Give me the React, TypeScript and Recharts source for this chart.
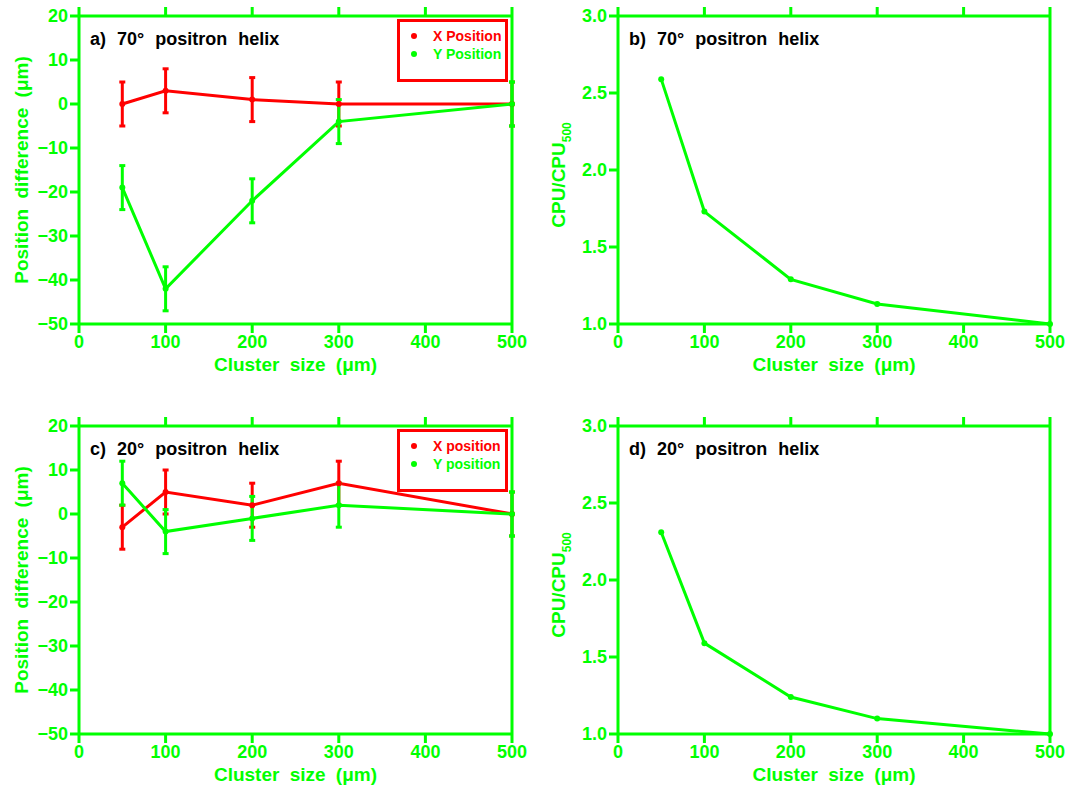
import { ErrorBar, Legend, Line, LineChart, XAxis, YAxis } from "recharts"

const SIZES = [50, 100, 200, 300, 500]

// panel a/c: position difference (um)
const X_DIFF_70 = [0, 3, 1, 0, 0]
const Y_DIFF_70 = [-19, -42, -22, -4, 0]
const X_DIFF_20 = [-3, 5, 2, 7, 0]
const Y_DIFF_20 = [7, -4, -1, 2, 0]
const DIFF_ERR = [5, 5, 5, 5, 5]

// panel b/d: CPU relative to 500um clusters
const CPU_70 = [2.59, 1.73, 1.29, 1.13, 1.0]
const CPU_20 = [2.31, 1.59, 1.24, 1.1, 1.0]

const X_TICKS = [0, 100, 200, 300, 400, 500]
const DIFF_TICKS = [-50, -40, -30, -20, -10, 0, 10, 20]
const CPU_TICKS = [1.0, 1.5, 2.0, 2.5, 3.0]

const GREEN = "#00ff00"
const RED = "#ff0000"
const FONT = "'Liberation Sans', Arial, sans-serif"

const roundDot = (color: string) => (p: any) => (
  <circle key={p.key ?? `${p.cx}-${p.cy}`} cx={p.cx} cy={p.cy} r={3} fill={color} stroke="none" />
)

const hideTick = () => <g />

const axisCommon = {
  stroke: GREEN,
  strokeWidth: 3,
  tickSize: 9,
  tickLine: { stroke: GREEN, strokeWidth: 3 },
}

const tickStyle = { fill: GREEN, fontSize: 18, fontWeight: 700, fontFamily: FONT }

const fmtDiff = (v: number) => (v < 0 ? `\u2212${-v}` : `${v}`)

const xLabel = ({ viewBox }: any) => (
  <text
    x={viewBox.x + viewBox.width / 2}
    y={viewBox.y + 47}
    textAnchor="middle"
    fill={GREEN}
    fontSize={19}
    fontWeight={700}
    fontFamily={FONT}
    wordSpacing={5}
  >
    Cluster size (μm)
  </text>
)

const yLabelDiff = ({ viewBox }: any) => {
  const x = viewBox.x + 19
  const y = viewBox.y + viewBox.height / 2
  return (
    <text
      x={x}
      y={y}
      transform={`rotate(-90 ${x} ${y})`}
      textAnchor="middle"
      fill={GREEN}
      fontSize={19}
      fontWeight={700}
      fontFamily={FONT}
      wordSpacing={5}
    >
      Position difference (μm)
    </text>
  )
}

const yLabelCpu = ({ viewBox }: any) => {
  const x = viewBox.x + 17
  const y = viewBox.y + viewBox.height / 2 + 5
  return (
    <text
      x={x}
      y={y}
      transform={`rotate(-90 ${x} ${y})`}
      textAnchor="middle"
      fill={GREEN}
      fontSize={19}
      fontWeight={700}
      fontFamily={FONT}
    >
      CPU/CPU
      <tspan fontSize={12} dy={6}>
        500
      </tspan>
    </text>
  )
}

const legendBox = (xName: string, yName: string) => () => (
  <div
    style={{
      width: 111,
      height: 63,
      border: `3px solid ${RED}`,
      boxSizing: "border-box",
      fontFamily: FONT,
      fontWeight: 700,
      fontSize: 14,
      paddingTop: 5,
    }}
  >
    {[
      { name: xName, color: RED },
      { name: yName, color: GREEN },
    ].map((e) => (
      <div key={e.name} style={{ display: "flex", alignItems: "center", height: 18, color: e.color }}>
        <svg width={33} height={12}>
          <circle cx={14} cy={6} r={3} fill={e.color} />
        </svg>
        <span>{e.name}</span>
      </div>
    ))}
  </div>
)

interface DiffPanelProps {
  title: string
  xs: number[]
  ys: number[]
  xName: string
  yName: string
  height: number
}

const DiffPanel = ({ title, xs, ys, xName, yName, height }: DiffPanelProps) => {
  const data = SIZES.map((s, i) => ({ size: s, xv: xs[i], xe: DIFF_ERR[i], yv: ys[i], ye: DIFF_ERR[i] }))
  return (
    <LineChart
      width={530}
      height={height}
      data={data}
      margin={{ top: 6, right: 8, left: 9, bottom: height - 324 - 50 }}
    >
      <XAxis xAxisId="b" dataKey="size" type="number" domain={[0, 500]} ticks={X_TICKS} height={50} tickMargin={2} {...axisCommon} tick={tickStyle} label={xLabel} />
      <XAxis xAxisId="t" orientation="top" dataKey="size" type="number" domain={[0, 500]} ticks={X_TICKS} height={10} {...axisCommon} tick={hideTick} />
      <YAxis yAxisId="l" type="number" domain={[-50, 20]} ticks={DIFF_TICKS} width={70} {...axisCommon} tick={tickStyle} tickFormatter={fmtDiff} label={yLabelDiff} />
      <YAxis yAxisId="r" orientation="right" type="number" domain={[-50, 20]} ticks={DIFF_TICKS} width={10} {...axisCommon} tick={hideTick} />
      <Legend layout="vertical" align="center" verticalAlign="middle" wrapperStyle={{ left: 397, top: 19, width: 111 }} content={legendBox(xName, yName)} />
      <Line xAxisId="b" yAxisId="l" dataKey="xv" stroke={RED} strokeWidth={3} dot={roundDot(RED)} isAnimationActive={false}>
        <ErrorBar dataKey="xe" direction="y" width={3} stroke={RED} strokeWidth={3} />
      </Line>
      <Line xAxisId="b" yAxisId="l" dataKey="yv" stroke={GREEN} strokeWidth={3} dot={roundDot(GREEN)} isAnimationActive={false}>
        <ErrorBar dataKey="ye" direction="y" width={3} stroke={GREEN} strokeWidth={3} />
      </Line>
      <text x={90} y={45} fill="#000" fontSize={18} fontWeight={700} fontFamily={FONT} wordSpacing={6}>
        {title}
      </text>
    </LineChart>
  )
}

interface CpuPanelProps {
  title: string
  cpu: number[]
  height: number
}

const CpuPanel = ({ title, cpu, height }: CpuPanelProps) => {
  const data = SIZES.map((s, i) => ({ size: s, cpu: cpu[i] }))
  return (
    <LineChart
      width={541}
      height={height}
      data={data}
      margin={{ top: 6, right: 11, left: 18, bottom: height - 324 - 50 }}
    >
      <XAxis xAxisId="b" dataKey="size" type="number" domain={[0, 500]} ticks={X_TICKS} height={50} tickMargin={2} {...axisCommon} tick={tickStyle} label={xLabel} />
      <XAxis xAxisId="t" orientation="top" dataKey="size" type="number" domain={[0, 500]} ticks={X_TICKS} height={10} {...axisCommon} tick={hideTick} />
      <YAxis yAxisId="l" type="number" domain={[1, 3]} ticks={CPU_TICKS} width={70} {...axisCommon} tick={tickStyle} tickFormatter={(v: number) => v.toFixed(1)} label={yLabelCpu} />
      <YAxis yAxisId="r" orientation="right" type="number" domain={[1, 3]} ticks={CPU_TICKS} width={10} {...axisCommon} tick={hideTick} />
      <Line xAxisId="b" yAxisId="l" dataKey="cpu" stroke={GREEN} strokeWidth={3} dot={roundDot(GREEN)} isAnimationActive={false} />
      <text x={99} y={45} fill="#000" fontSize={18} fontWeight={700} fontFamily={FONT} wordSpacing={6}>
        {title}
      </text>
    </LineChart>
  )
}

export default function App() {
  return (
    <div style={{ position: "absolute", left: 0, top: 0, width: 1071, height: 787, background: "#fff" }}>
      <div style={{ position: "absolute", left: 0, top: 0 }}>
        <DiffPanel title="a) 70° positron helix" xs={X_DIFF_70} ys={Y_DIFF_70} xName="X Position" yName="Y Position" height={395} />
      </div>
      <div style={{ position: "absolute", left: 530, top: 0 }}>
        <CpuPanel title="b) 70° positron helix" cpu={CPU_70} height={395} />
      </div>
      <div style={{ position: "absolute", left: 0, top: 410 }}>
        <DiffPanel title="c) 20° positron helix" xs={X_DIFF_20} ys={Y_DIFF_20} xName="X position" yName="Y position" height={377} />
      </div>
      <div style={{ position: "absolute", left: 530, top: 410 }}>
        <CpuPanel title="d) 20° positron helix" cpu={CPU_20} height={377} />
      </div>
    </div>
  )
}
